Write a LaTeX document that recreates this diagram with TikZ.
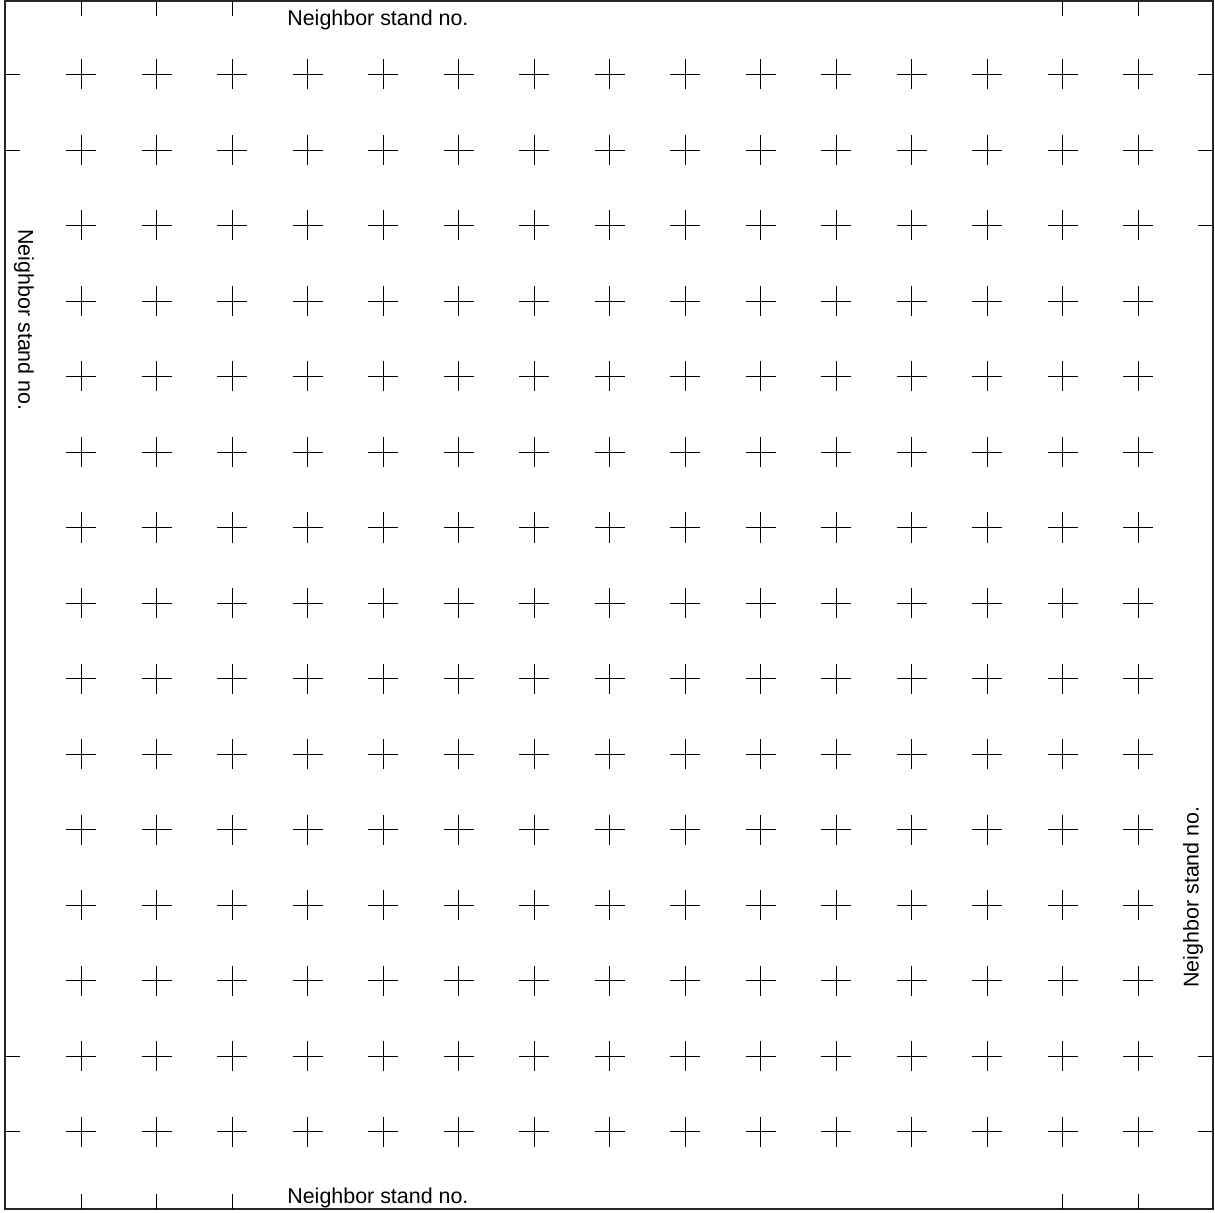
\documentclass[tikz,border=0pt]{standalone}
\usepackage{fontspec}
\setmainfont{Liberation Sans}
\usepackage{tikz}
\usetikzlibrary{positioning}

\begin{document}
\begin{tikzpicture}[
    x=0.02cm, y=-0.02cm,
    every node/.style={font=\fontsize{12.2}{14}\selectfont, inner sep=0pt},
    frame/.style={draw=black!85, line width=0.8pt},
    cross/.style={draw=black, line width=0.5pt},
    tickmark/.style={draw=black, line width=0.5pt}
]
\useasboundingbox (0,0) rectangle (1215,1213);
% frame
\draw[frame] (5,1) rectangle (1213,1209);
\draw[frame, line width=1.2pt] (5,1) -- (5,1209);
% grid of crosses
\foreach \i in {0,...,14}
  \foreach \j in {0,...,14}
    \draw[cross] ({81+75.5*\i},{74.5+75.5*\j}) +(-15,0) -- +(15,0) +(0,-15) -- +(0,15);
% ticks on top and bottom
\foreach \i in {0,1,2,13,14} {
  \draw[tickmark] ({81+75.5*\i},1) -- ++(0,15);
  \draw[tickmark] ({81+75.5*\i},1209) -- ++(0,-15);
}
% ticks on left and right
\foreach \j in {0,1,13,14}
  \draw[tickmark] (5,{74.5+75.5*\j}) -- ++(15,0);
\foreach \j in {0,1,2,13,14}
  \draw[tickmark] (1213,{74.5+75.5*\j}) -- ++(-15,0);
% labels
\node[anchor=base west] (top) at (287,26) {Neighbor stand no.};
\node[anchor=base west] (bottom) at (287,1203) {Neighbor stand no.};
\node[rotate=-90] (left) at (24,320) {Neighbor stand no.};
\node[rotate=90] (right) at (1193,897) {Neighbor stand no.};
\end{tikzpicture}
\end{document}
